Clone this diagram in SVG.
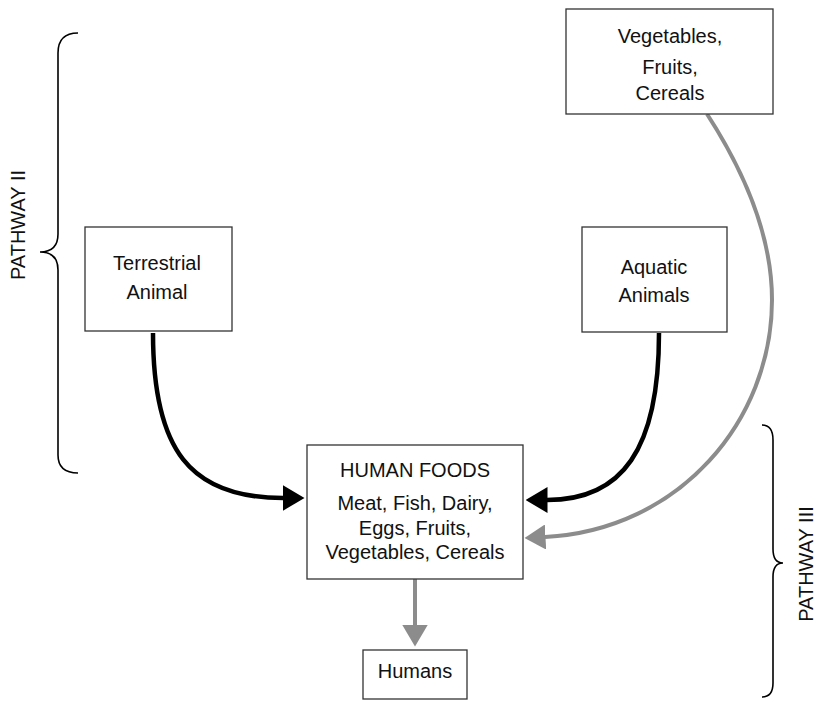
<svg xmlns="http://www.w3.org/2000/svg" width="817" height="701" viewBox="0 0 817 701">
<style>
.box{fill:#fff;stroke:#333;stroke-width:1.3}
.t{font-family:"Liberation Sans",Arial,sans-serif;font-size:20px;fill:#111;text-anchor:middle}
.blk{fill:none;stroke:#000;stroke-width:4.5}
.gry{fill:none;stroke:#8c8c8c;stroke-width:4}
.brace{fill:none;stroke:#000;stroke-width:1.6}
</style>
<defs>
<marker id="hb" markerUnits="userSpaceOnUse" viewBox="0 0 22 26" refX="0.5" refY="13" markerWidth="22" markerHeight="26" orient="auto">
<path d="M0,0 L22,13 L0,26 z" fill="#000"/>
</marker>
<marker id="hg" markerUnits="userSpaceOnUse" viewBox="0 0 21 25" refX="0.5" refY="12.5" markerWidth="21" markerHeight="25" orient="auto">
<path d="M0,0 L21,12.5 L0,25 z" fill="#8c8c8c"/>
</marker>
<marker id="hgd" markerUnits="userSpaceOnUse" viewBox="0 0 22 26" refX="0.5" refY="13" markerWidth="22" markerHeight="26" orient="auto">
<path d="M0,0 L22,13 L0,26 z" fill="#8c8c8c"/>
</marker>
</defs>
<rect width="817" height="701" fill="#fff"/>
<g id="connectors">
<path class="blk" d="M153,333 C153,450 190,498 283,498" marker-end="url(#hb)"/>
<path class="blk" d="M659,333 C659,450 622,500 547,500" marker-end="url(#hb)"/>
<path class="gry" d="M707,114 C740,165 772,230 772,300 C772,420 680,530 545,537" marker-end="url(#hg)"/>
<path class="gry" d="M415,579 L415,625" stroke-width="6" marker-end="url(#hgd)"/>
</g>
<g id="vegetables">
<rect class="box" x="566" y="9" width="207" height="105"/>
<text class="t" x="670" y="43">Vegetables,</text>
<text class="t" x="670" y="74">Fruits,</text>
<text class="t" x="670" y="100">Cereals</text>
</g>
<g id="terrestrial">
<rect class="box" x="85" y="227" width="147" height="104"/>
<text class="t" x="157" y="270">Terrestrial</text>
<text class="t" x="157" y="299">Animal</text>
</g>
<g id="aquatic">
<rect class="box" x="582" y="227" width="145" height="105"/>
<text class="t" x="654" y="274">Aquatic</text>
<text class="t" x="654" y="302">Animals</text>
</g>
<g id="humanfoods">
<rect class="box" x="307" y="445" width="216" height="134"/>
<text class="t" x="415" y="477">HUMAN FOODS</text>
<text class="t" x="415" y="510">Meat, Fish, Dairy,</text>
<text class="t" x="415" y="534.5">Eggs, Fruits,</text>
<text class="t" x="415" y="559">Vegetables, Cereals</text>
</g>
<g id="humans">
<rect class="box" x="363" y="650" width="104" height="49"/>
<text class="t" x="415" y="678">Humans</text>
</g>
<g id="pathway2">
<path class="brace" d="M78,33 Q58,33 58,53 L58,234 Q58,252 40,252 Q58,252 58,270 L58,455 Q58,473 78,473"/>
<text class="t" transform="translate(25,225) rotate(-90)">PATHWAY II</text>
</g>
<g id="pathway3">
<path class="brace" d="M762,425 Q773,425 773,440 L773,549 Q773,563 783,563 Q773,563 773,577 L773,683 Q773,697 762,697"/>
<text class="t" transform="translate(813,564) rotate(-90)">PATHWAY III</text>
</g>
</svg>
